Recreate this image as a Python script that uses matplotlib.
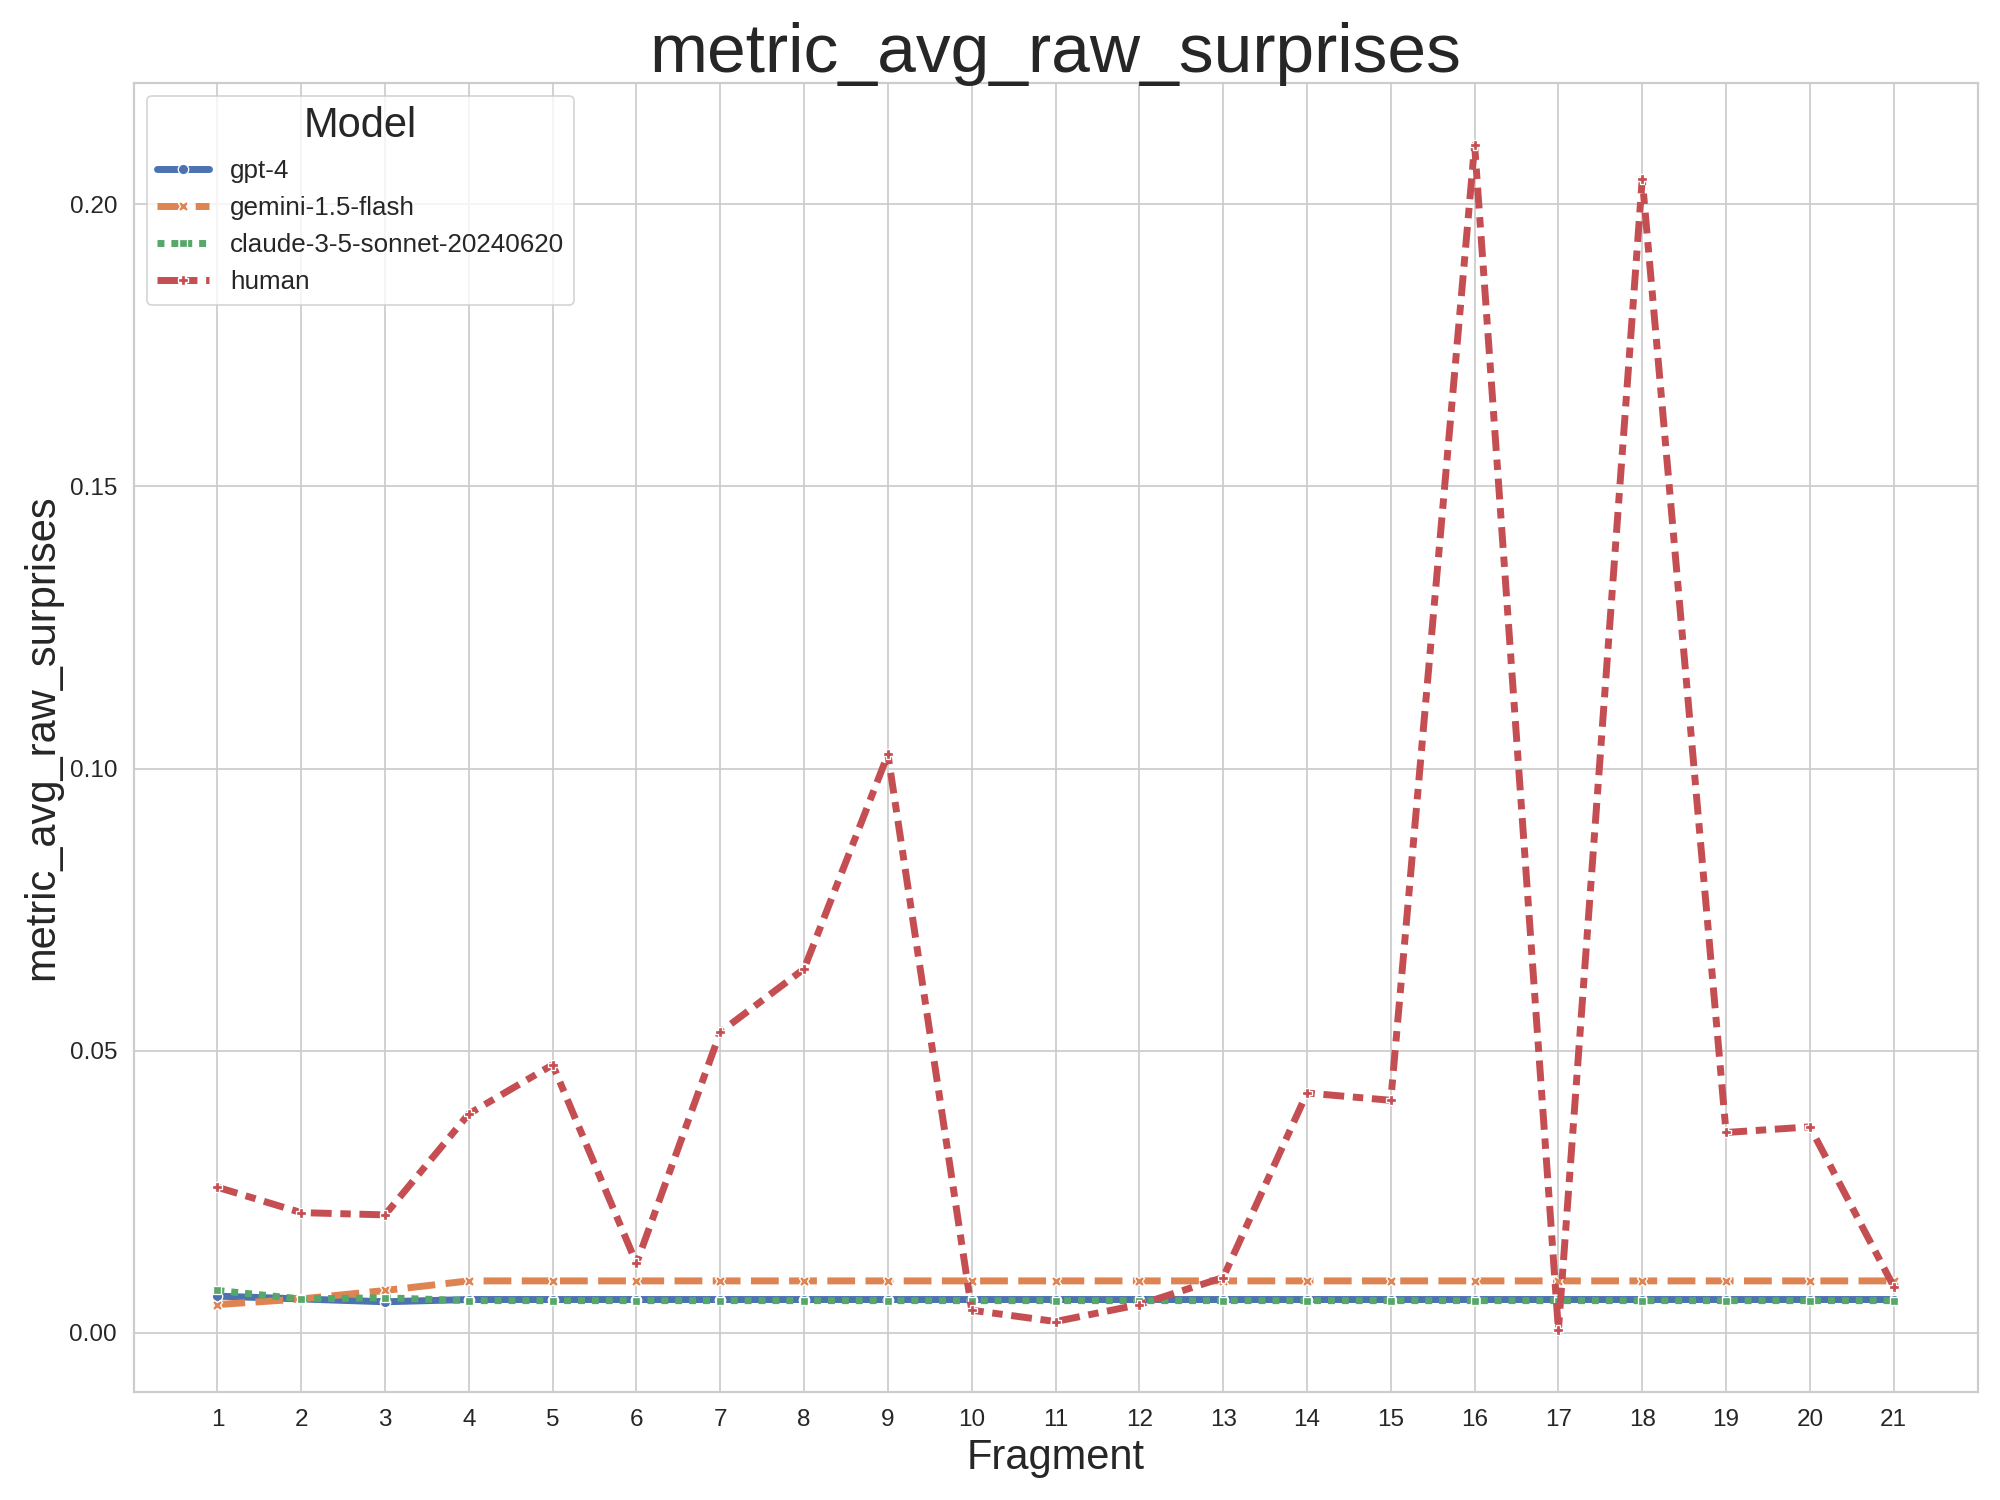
import numpy as np
import pandas as pd
import seaborn as sns
import matplotlib.pyplot as plt

fragments = list(range(1, 22))
models = ["gpt-4", "gemini-1.5-flash", "claude-3-5-sonnet-20240620", "human"]

gpt4 = [0.0065, 0.0060, 0.0055] + [0.0059] * 18
gemini = [0.0050, 0.0060, 0.0075] + [0.0092] * 18
claude = [0.0075, 0.0060, 0.0062] + [0.0057] * 18
human = [0.0258, 0.0213, 0.0209, 0.0388, 0.0475, 0.0123, 0.0533, 0.0645,
         0.1025, 0.0040, 0.0020, 0.0050, 0.0098, 0.0425, 0.0412, 0.2105,
         0.0005, 0.2045, 0.0355, 0.0365, 0.0082]

rows = []
for name, vals in zip(models, [gpt4, gemini, claude, human]):
    for f, v in zip(fragments, vals):
        rows.append({"Fragment": f, "metric_avg_raw_surprises": v, "Model": name})
df = pd.DataFrame(rows)

sns.set_theme(style="whitegrid")
plt.rcParams['font.family'] = ['Liberation Sans', 'DejaVu Sans']

fig, ax = plt.subplots(figsize=(16, 12), dpi=125)
sns.lineplot(data=df, x="Fragment", y="metric_avg_raw_surprises", hue="Model",
             style="Model", markers=True, linewidth=4, ax=ax)
ax.set_xticks(fragments)
ax.tick_params(labelsize=14)
ax.set_title("metric_avg_raw_surprises", fontsize=40)
ax.set_xlabel("Fragment", fontsize=24)
ax.set_ylabel("metric_avg_raw_surprises", fontsize=24)
ax.set_ylim(-0.0105, 0.2215)
leg = ax.legend(title="Model", fontsize=15, title_fontsize=24, loc="upper left")
plt.tight_layout()
fig.savefig("out.png")
